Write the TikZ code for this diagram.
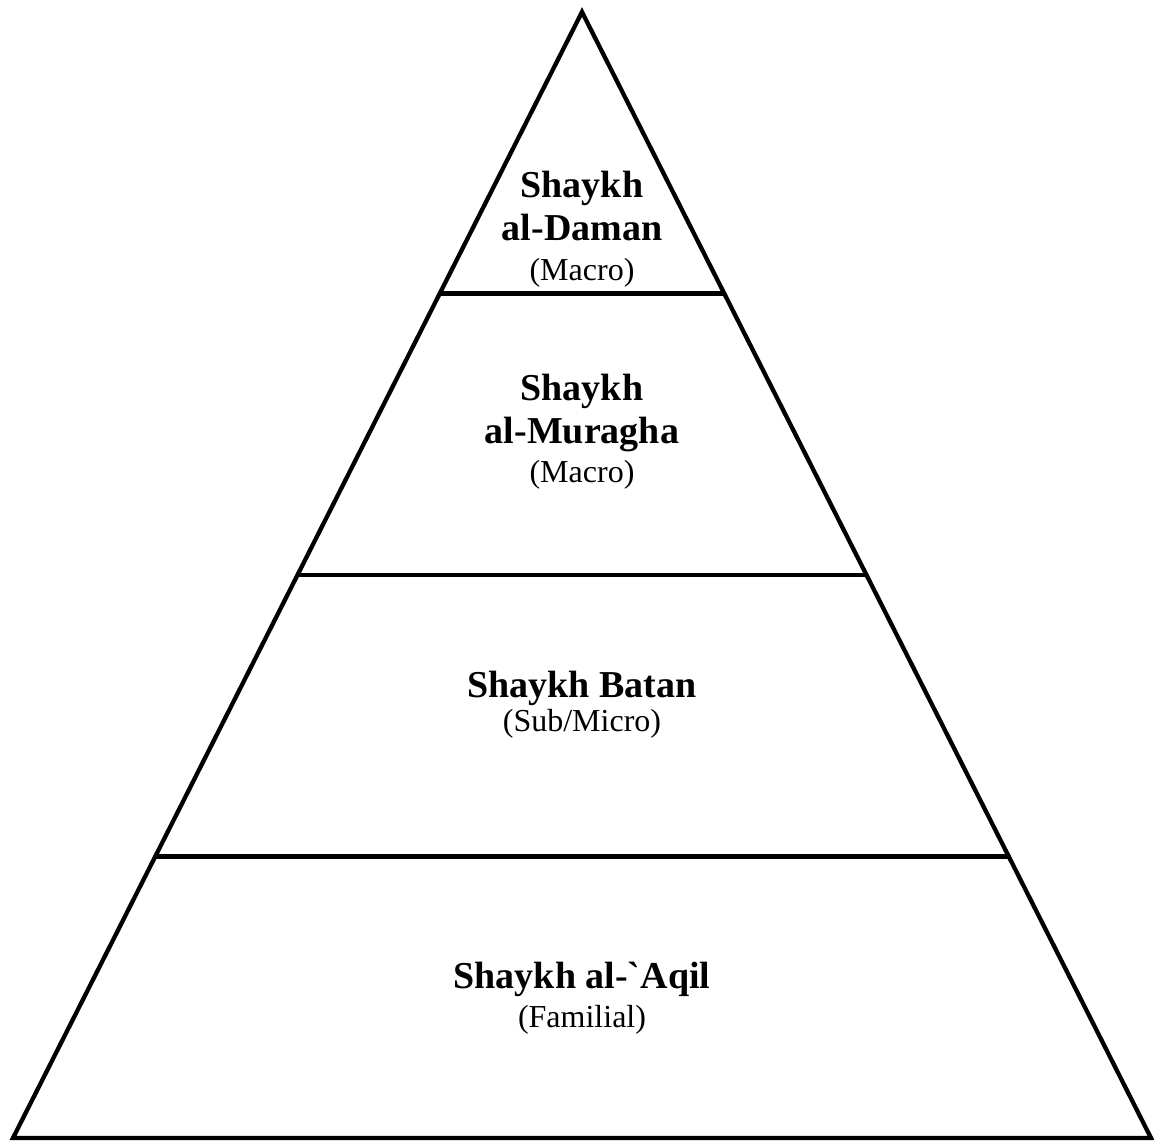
\documentclass[tikz,border=0pt]{standalone}
\usepackage{fontspec}
\setmainfont{Liberation Serif}[Ligatures=TeXOff]
\usetikzlibrary{calc}
\begin{document}
\begin{tikzpicture}[x=1pt,y=-1pt,
  edge/.style={line width=4.3pt,line join=miter,line cap=butt},
  title/.style={anchor=base,inner sep=0pt,font=\fontsize{38}{42}\selectfont\bfseries},
  sub/.style={anchor=base,inner sep=0pt,font=\fontsize{32}{36}\selectfont}]
\useasboundingbox (0,0) rectangle (1154,1141);
\coordinate (A) at (582,12);
\coordinate (L) at (13,1138);
\coordinate (R) at (1151,1138);
\draw[edge] (L) -- (A) -- (R) -- cycle;
\coordinate (l1) at ($(L)!0.75!(A)$);
\coordinate (r1) at ($(R)!0.75!(A)$);
\coordinate (l2) at ($(L)!0.5!(A)$);
\coordinate (r2) at ($(R)!0.5!(A)$);
\coordinate (l3) at ($(L)!0.25!(A)$);
\coordinate (r3) at ($(R)!0.25!(A)$);
\draw[edge] (l1) -- (r1);
\draw[edge] (l2) -- (r2);
\draw[edge] (l3) -- (r3);
\node[title] (t1a) at (582,197) {Shaykh};
\node[title] (t1b) at (582,240) {al-Daman};
\node[sub] (s1) at (582,280) {(Macro)};
\node[title] (t2a) at (582,400) {Shaykh};
\node[title] (t2b) at (582,443) {al-Muragha};
\node[sub] (s2) at (582,482) {(Macro)};
\node[title] (t3) at (582,697) {Shaykh Batan};
\node[sub] (s3) at (582,731) {(Sub/Micro)};
\node[title] (t4) at (582,988) {Shaykh al-`Aqil};
\node[sub] (s4) at (582,1027) {(Familial)};
\end{tikzpicture}
\end{document}
